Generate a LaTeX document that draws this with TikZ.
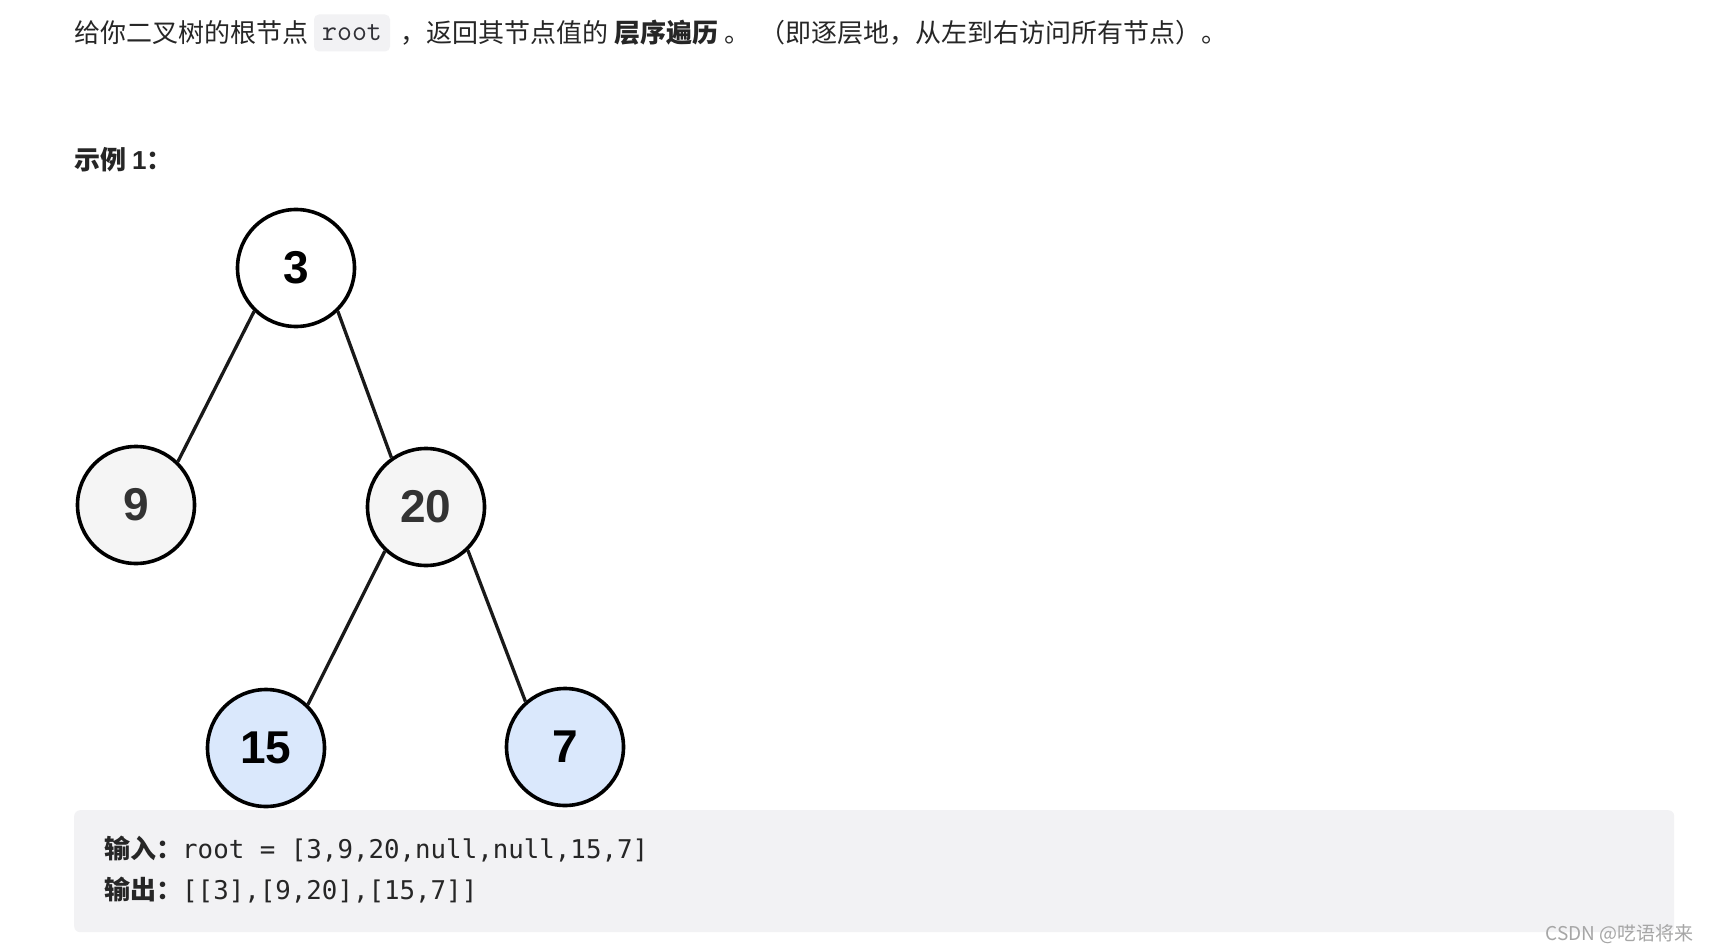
\documentclass[tikz,border=0pt]{standalone}
\usepackage{fontspec}
\newfontfamily\cjk{Noto Sans CJK SC}
\newfontfamily\numf{Liberation Sans}
\newfontfamily\codef{DejaVu Sans Mono}
\definecolor{textc}{HTML}{262626}
\definecolor{codebg}{HTML}{F2F2F4}
\definecolor{greyfill}{HTML}{F5F5F5}
\definecolor{bluefill}{HTML}{DAE8FC}
\definecolor{greytxt}{HTML}{333333}
\definecolor{wmark}{HTML}{A6A6A6}
\definecolor{inltxt}{HTML}{303036}
\tikzset{
  txt/.style={anchor=base west, inner sep=0pt, font=\cjk\fontsize{26}{30}\selectfont, text=textc},
  btxt/.style={txt, font=\cjk\bfseries\fontsize{26}{30}\selectfont},
  codetxt/.style={anchor=base west, inner sep=0pt, font=\codef\fontsize{25.8}{30}\selectfont, text=textc},
  tnode/.style={circle, draw=black, line width=3.6pt, minimum size=117pt, inner sep=0pt,
    font=\numf\bfseries\fontsize{46}{50}\selectfont},
  whitenode/.style={tnode, fill=white, text=black},
  greynode/.style={tnode, fill=greyfill, text=greytxt},
  bluenode/.style={tnode, fill=bluefill, text=black},
  treeedge/.style={line width=3.3pt, draw=black!90},
  codebox/.style={fill=codebg, rounded corners=6pt, inner sep=0pt, anchor=north west},
}
\begin{document}
\begin{tikzpicture}[x=1pt,y=-1pt]
\useasboundingbox (0,0) rectangle (1710,952);
\fill[white] (0,0) rectangle (1710,952);

% top sentence
\node[txt] (t1) at (74,43) {给你二叉树的根节点};
\node[fill=codebg, rounded corners=5pt, minimum width=76pt, minimum height=37pt, inner sep=0pt,
  font=\ttfamily\fontsize{29}{32}\selectfont, text=inltxt] (rootcode) at (352,33) {root};
\node[txt] (t2) at (400,43) {，返回其节点值的};
\node[btxt] (t3) at (614,43) {层序遍历};
\node[txt] (t4) at (724,43) {。};
\node[txt] (t5) at (759,43) {（即逐层地，从左到右访问所有节点）。};

% example label
\node[btxt] (ex) at (74,170) {示例 {\numf\bfseries 1}：};

% tree
\node[whitenode] (n3) at (296,268) {3};
\node[greynode] (n9) at (136,505) {9};
\node[greynode] (n20) at (426,507) {20};
\node[bluenode] (n15) at (266,748) {15};
\node[bluenode] (n7) at (565,747) {7};

\draw[treeedge] (n3.226) -- (n9.46);
\draw[treeedge] (n3.314) -- (n20.125);
\draw[treeedge] (n20.227) -- (n15.46);
\draw[treeedge] (n20.314) -- (n7.131);

% code box
\node[codebox, minimum width=1600pt, minimum height=122pt] (box) at (74,810) {};
\node[btxt] (in) at (104,858) {输入：};
\node[codetxt] (incode) at (182,858) {root = [3,9,20,null,null,15,7]};
\node[btxt] (out) at (104,899) {输出：};
\node[codetxt] (outcode) at (182,899) {[[3],[9,20],[15,7]]};

% watermark
\node[anchor=east, inner sep=0pt, font=\cjk\fontsize{19}{22}\selectfont, text=wmark] (wm) at (1694,934) {CSDN @呓语将来};
\end{tikzpicture}
\end{document}
